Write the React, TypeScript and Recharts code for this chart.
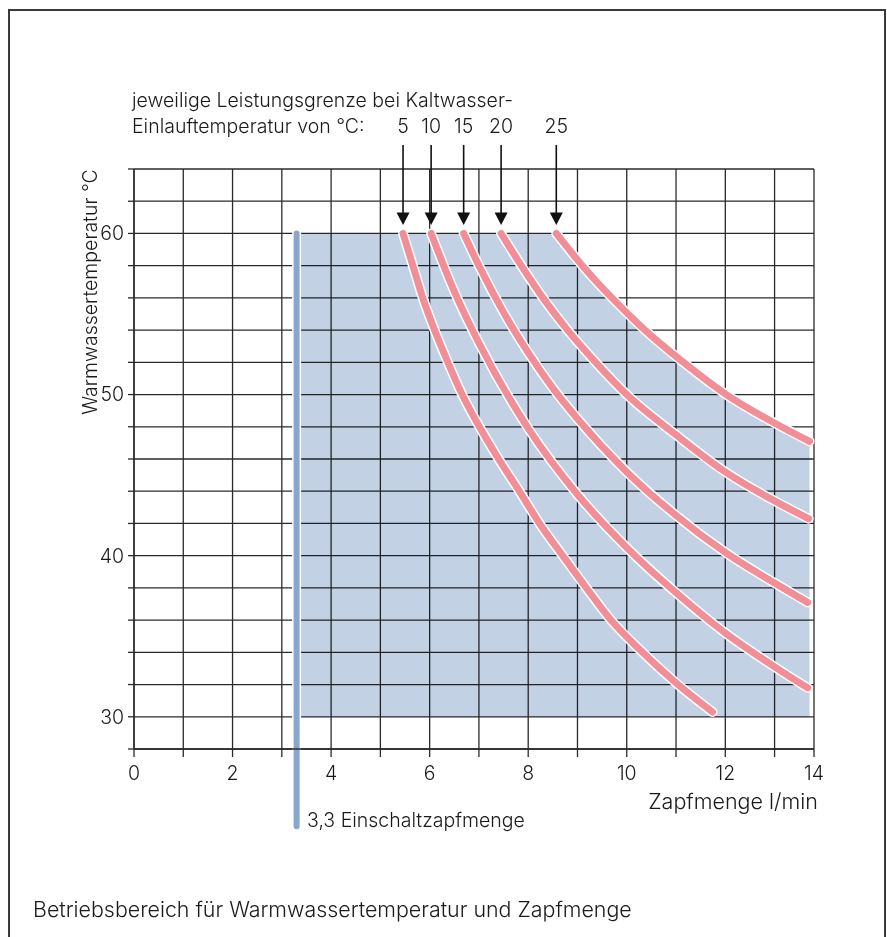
import React from 'react';
import {
  ComposedChart,
  Line,
  Area,
  XAxis,
  YAxis,
  CartesianGrid,
  ReferenceLine,
  Scatter,
} from 'recharts';

const FONT = 'Inter, "DejaVu Sans", sans-serif';
const TEXT = '#1a1a1a';
const GRID = '#2a2a2a';
const RED = '#f08f98';
const BLUE_LINE = '#88a7cf';
const BLUE_FILL = '#c2d1e4';

// x axis (Zapfmenge l/min): grid every 1 l/min, the printed grid ends at its right edge labelled "14"
const xGridEnd = 13.8;
const xTicks = [0, 1, 2, 3, 4, 5, 6, 7, 8, 9, 10, 11, 12, 13, xGridEnd];
const xLabelValues = [0, 2, 4, 6, 8, 10, 12];
const xEndLabel = '14';

// y axis (Warmwassertemperatur °C)
const yTicks = [28, 30, 32, 34, 36, 38, 40, 42, 44, 46, 48, 50, 52, 54, 56, 58, 60, 62, 64];
const yLabelValues = [30, 40, 50, 60];

// operating range
const minFlow = 3.3; // Einschaltzapfmenge
const minFlowLineEnd = 23.2;
const rangeTop = 60;
const rangeBottom = 30;

// power limit curves per cold water inlet temperature [flow, temp]
const coldWaterTemps = [5, 10, 15, 20, 25];
const limit5: [number, number][] = [
  [5.46, 60], [5.66, 58], [5.86, 56], [6.1, 54], [6.37, 52], [6.66, 50], [7.01, 48],
  [7.4, 46], [7.82, 44], [8.23, 42], [8.7, 40], [9.18, 38], [9.68, 36], [10.32, 34],
  [11.0, 32.1], [11.74, 30.3],
];
const limit10: [number, number][] = [
  [6.03, 60], [6.5, 56.4], [7.0, 53.2], [8.0, 47.9], [9.0, 43.8], [10.0, 40.5],
  [11.0, 37.7], [12.0, 35.2], [13.0, 33.1], [13.67, 31.8],
];
const limit15: [number, number][] = [
  [6.69, 60], [7.0, 58.0], [7.5, 55.1], [8.0, 52.6], [8.5, 50.4], [9.0, 48.5],
  [10.0, 45.2], [11.0, 42.5], [12.0, 40.2], [13.0, 38.3], [13.67, 37.1],
];
const limit20: [number, number][] = [
  [7.45, 60], [7.86, 58], [8.3, 56], [8.8, 54], [9.37, 52], [10.0, 50], [11.0, 47.5],
  [12.0, 45.2], [13.0, 43.4], [13.69, 42.3],
];
const limit25: [number, number][] = [
  [8.57, 60], [9.1, 58], [9.7, 56], [10.37, 54], [11.15, 52], [12.02, 50], [12.96, 48.3],
  [13.71, 47.1],
];
const limitCurves = [limit5, limit10, limit15, limit20, limit25];

const toPoints = (pts: [number, number][]) => pts.map(([x, y]) => ({ x, y }));

const areaData = [{ x: minFlow, y: rangeTop }, ...toPoints(limit25)];
const arrowData = coldWaterTemps.map((t, i) => ({
  x: limitCurves[i][0][0],
  y: limitCurves[i][0][1],
  t,
}));

const ArrowShape = (props: any) => {
  const { cx, cy, payload } = props;
  if (cx == null || cy == null) return null;
  return (
    <g>
      <line x1={cx} y1={cy - 88.5} x2={cx} y2={cy - 20} stroke="#111" strokeWidth={1.6} />
      <path d={`M${cx - 6.5},${cy - 21} L${cx + 6.5},${cy - 21} L${cx},${cy - 8.5} Z`} fill="#111" />
      <text
        x={cx}
        y={cy - 100.5}
        textAnchor="middle"
        fontFamily={FONT}
        fontSize={19.5}
        fontWeight={300}
        fill={TEXT}
      >
        {payload.t}
      </text>
    </g>
  );
};

const xFmt = (v: number) => (v === xGridEnd ? xEndLabel : xLabelValues.includes(v) ? String(v) : '');
const yFmt = (v: number) => (yLabelValues.includes(v) ? String(v) : '');

const tickStyle = { fill: TEXT, fontSize: 19.5, fontFamily: FONT, fontWeight: 300 };

export default function App() {
  return (
    <div
      style={{
        position: 'fixed',
        left: 0,
        top: 0,
        width: 887,
        height: 937,
        overflow: 'hidden',
        background: '#fff',
      }}
    >
      <style>{`.recharts-area-area { mix-blend-mode: multiply; }`}</style>
      <div
        style={{
          position: 'absolute',
          left: 8,
          top: 9,
          width: 878,
          height: 960,
          border: '2px solid #3a3a3a',
          boxSizing: 'border-box',
        }}
      />
      <div style={{ position: 'absolute', left: 0, top: 0 }}>
        <ComposedChart
          width={887}
          height={937}
          margin={{ top: 169, right: 73, bottom: 158, left: 94 }}
        >
          <XAxis
            type="number"
            dataKey="x"
            domain={[0, xGridEnd]}
            ticks={xTicks}
            interval={0}
            tickFormatter={xFmt}
            tickSize={8}
            tickMargin={9}
            height={30}
            axisLine={{ stroke: GRID, strokeWidth: 1.4 }}
            tickLine={{ stroke: GRID, strokeWidth: 1.3 }}
            tick={tickStyle}
          />
          <YAxis
            type="number"
            dataKey="y"
            domain={[28, 64]}
            ticks={yTicks}
            interval={0}
            tickFormatter={yFmt}
            tickSize={6}
            tickMargin={4}
            width={40}
            axisLine={{ stroke: GRID, strokeWidth: 1.4 }}
            tickLine={{ stroke: GRID, strokeWidth: 1.3 }}
            tick={tickStyle}
          />
          <CartesianGrid stroke={GRID} strokeWidth={1.3} />
          <Area
            data={areaData}
            dataKey="y"
            type="monotone"
            baseValue={rangeBottom}
            fill={BLUE_FILL}
            fillOpacity={1}
            stroke="none"
            isAnimationActive={false}
            dot={false}
            activeDot={false}
          />
          <ReferenceLine
            segment={[{ x: minFlow, y: rangeTop }, { x: minFlow, y: minFlowLineEnd }]}
            ifOverflow="visible"
            stroke="#ffffff"
            strokeWidth={9}
            strokeLinecap="round"
          />
          <ReferenceLine
            segment={[{ x: minFlow, y: rangeTop }, { x: minFlow, y: minFlowLineEnd }]}
            ifOverflow="visible"
            stroke={BLUE_LINE}
            strokeWidth={6}
            strokeLinecap="round"
          />
          {limitCurves.map((c, i) => (
            <Line
              key={`w${i}`}
              data={toPoints(c)}
              dataKey="y"
              type="monotone"
              stroke="#ffffff"
              strokeWidth={10}
              strokeLinecap="round"
              dot={false}
              activeDot={false}
              isAnimationActive={false}
            />
          ))}
          {limitCurves.map((c, i) => (
            <Line
              key={`r${i}`}
              data={toPoints(c)}
              dataKey="y"
              type="monotone"
              stroke={RED}
              strokeWidth={7}
              strokeLinecap="round"
              dot={false}
              activeDot={false}
              isAnimationActive={false}
            />
          ))}
          <Scatter data={arrowData} dataKey="y" shape={ArrowShape} isAnimationActive={false} />
        </ComposedChart>
      </div>
      <svg
        width={887}
        height={937}
        style={{ position: 'absolute', left: 0, top: 0, pointerEvents: 'none' }}
      >
        <g fontFamily={FONT} fontSize={19.5} fontWeight={300} fill={TEXT}>
          <text x={132} y={107}>jeweilige Leistungsgrenze bei Kaltwasser-</text>
          <text x={132} y={133}>Einlauftemperatur von °C:</text>
          <text transform="translate(97,292) rotate(-90)" textAnchor="middle">
            Warmwassertemperatur °C
          </text>
          <text x={818} y={809} textAnchor="end" fontSize={21.5}>Zapfmenge l/min</text>
          <text x={307} y={827}>3,3 Einschaltzapfmenge</text>
          <text x={33} y={917} fontSize={21.4}>
            Betriebsbereich für Warmwassertemperatur und Zapfmenge
          </text>
        </g>
      </svg>
    </div>
  );
}
